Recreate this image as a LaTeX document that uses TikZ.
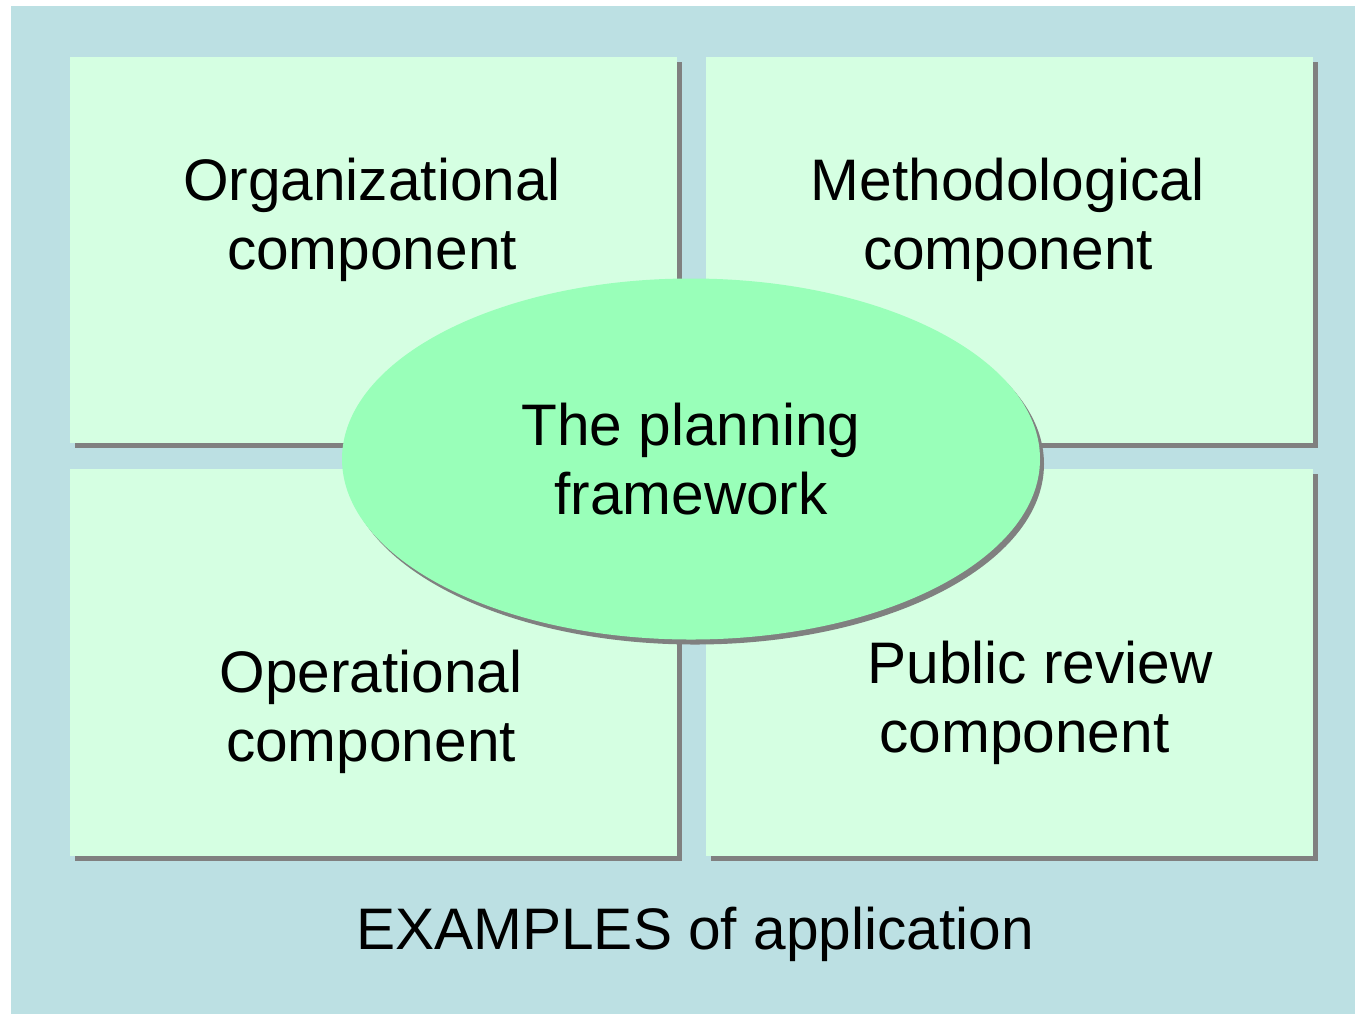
\documentclass[tikz,border=0pt]{standalone}
\usepackage{fontspec}
\setmainfont{Liberation Sans}
\usetikzlibrary{shapes.geometric,shadows}
\definecolor{bgblue}{HTML}{BCE0E3}
\definecolor{boxgreen}{HTML}{D5FFE2}
\definecolor{ellgreen}{HTML}{99FFB9}
\definecolor{shadowgray}{HTML}{808080}
\tikzset{
  compbox/.style={rectangle, fill=boxgreen, draw=none, inner sep=0pt,
    minimum width=303.5pt, minimum height=193.25pt,
    drop shadow={shadow xshift=2.5pt, shadow yshift=-2.5pt, fill=shadowgray, opacity=1}},
  lbl/.style={font=\fontsize{29.3}{34.5}\selectfont, align=center, inner sep=0pt},
  hub/.style={ellipse, fill=ellgreen, draw=none, inner sep=0pt,
    minimum width=349pt, minimum height=180.5pt,
    drop shadow={shadow xshift=2pt, shadow yshift=-2.5pt, fill=shadowgray, opacity=1}}
}
\begin{document}
\begin{tikzpicture}[x=0.5pt,y=-0.5pt]
\useasboundingbox (0,0) rectangle (1355,1014);
\fill[bgblue] (11,6) rectangle (1355,1014);
\node[compbox] (org) at (373.5,250) {};
\node[compbox] (met) at (1009,250) {};
\node[compbox] (ope) at (373.5,662.5) {};
\node[compbox] (pub) at (1009,662.5) {};
\node[lbl] (orgt) at (372,220) {Organizational\\component};
\node[lbl] (mett) at (1008,220) {Methodological\\component};
\node[lbl] (opet) at (371,712) {Operational\\component};
\node[lbl, align=left] (pubt) at (1040,703) {Public review\\\hspace*{6pt}component};
\node[hub, lbl] (hubn) at (691,459) {The planning\\framework};
\node[lbl] (examples) at (695,934) {EXAMPLES of application};
\end{tikzpicture}
\end{document}
